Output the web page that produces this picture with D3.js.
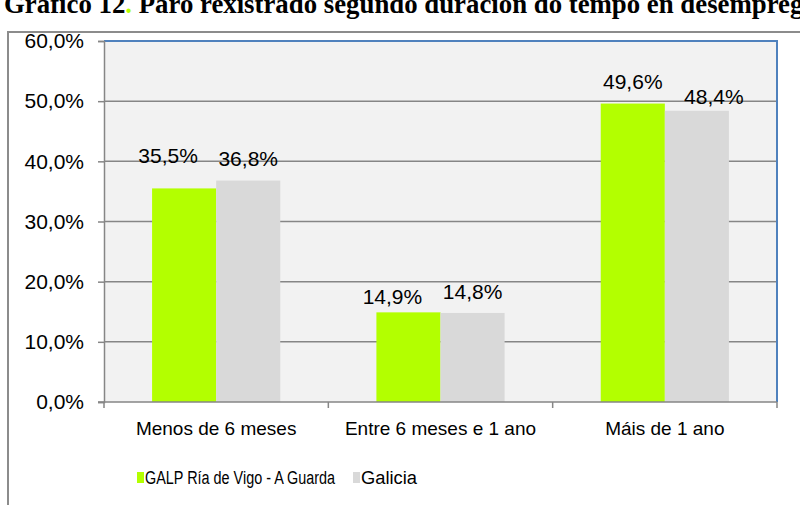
<!DOCTYPE html>
<html>
<head>
<meta charset="utf-8">
<script src="https://cdn.jsdelivr.net/npm/d3@7"></script>
<style>
  body { margin: 0; background: #fff; }
  svg { display: block; }
</style>
</head>
<body>
<svg id="chart" width="800" height="505"></svg>
<script>
(function (d3) {
  // data
  var categories = ['Menos de 6 meses', 'Entre 6 meses e 1 ano', 'Máis de 1 ano'];
  var seriesNames = ['GALP Ría de Vigo - A Guarda', 'Galicia'];
  var galpValues = [35.5, 14.9, 49.6];
  var galiciaValues = [36.8, 14.8, 48.4];
  var yTicks = [0, 10, 20, 30, 40, 50, 60];

  var colors = ['#b3ff00', '#d9d9d9'];
  // labels were hand placed in the original: lift above bar top, sideways shift (px)
  var labelLift = [[25, 15], [8, 14], [15, 7]];
  var labelShift = [[-16, 0], [-16, 0], [0, 17]];

  var svg = d3.select('#chart');
  var font = 'Liberation Sans, Arial, sans-serif';
  var fmt = function (v) { return d3.format('.1f')(v).replace('.', ',') + '%'; };

  var plot = { left: 104, right: 777, top: 41, bottom: 402 };

  /* ============ title & frame ============ */
  var title = svg.append('text')
    .attr('x', 4)
    .attr('y', 13)
    .attr('font-family', 'Liberation Serif, Times New Roman, serif')
    .attr('font-weight', 'bold')
    .attr('font-size', 26.8)
    .attr('fill', '#000');
  title.append('tspan').text('Gráfico 12');
  title.append('tspan').attr('fill', '#b3ff00').text('.');
  title.append('tspan').text(' Paro rexistrado segundo duración do tempo en desemprego');

  svg.append('path')
    .attr('d', 'M8,505V32H800')
    .attr('fill', 'none')
    .attr('stroke', '#8c8c8c')
    .attr('stroke-width', 2);

  /* ============ scales ============ */
  var x0 = d3.scaleBand()
    .domain(categories)
    .range([plot.left, plot.right])
    .padding(0);

  var x1 = d3.scaleBand()
    .domain(seriesNames)
    .range([0, x0.bandwidth()])
    .paddingInner(0)
    .paddingOuter(0.75);

  var y = d3.scaleLinear()
    .domain([0, 60])
    .range([plot.bottom, plot.top]);

  /* ============ plot area ============ */
  svg.append('rect')
    .attr('x', plot.left)
    .attr('y', plot.top)
    .attr('width', plot.right - plot.left)
    .attr('height', plot.bottom - plot.top)
    .attr('fill', '#f2f2f2');

  svg.append('g')
    .selectAll('line')
    .data(yTicks.filter(function (t) { return t > 0 && t < 60; }))
    .join('line')
    .attr('x1', plot.left)
    .attr('x2', plot.right)
    .attr('y1', function (t) { return y(t); })
    .attr('y2', function (t) { return y(t); })
    .attr('stroke', '#868686')
    .attr('stroke-width', 1.5);

  // plot border: blue on top/right
  svg.append('path')
    .attr('d', 'M' + plot.left + ',' + plot.top + 'H' + plot.right + 'V' + plot.bottom)
    .attr('fill', 'none')
    .attr('stroke', '#4f81bd')
    .attr('stroke-width', 2);

  /* ============ bars ============ */
  var rows = categories.map(function (c, i) {
    return { cat: c, i: i, values: [galpValues[i], galiciaValues[i]] };
  });

  var groups = svg.append('g')
    .selectAll('g')
    .data(rows)
    .join('g')
    .attr('transform', function (d) { return 'translate(' + x0(d.cat) + ',0)'; });

  groups.selectAll('rect')
    .data(function (d) {
      return d.values.map(function (v, j) { return { name: seriesNames[j], v: v, j: j }; });
    })
    .join('rect')
    .attr('x', function (d) { return x1(d.name); })
    .attr('y', function (d) { return y(d.v); })
    .attr('width', x1.bandwidth())
    .attr('height', function (d) { return y(0) - y(d.v); })
    .attr('fill', function (d) { return colors[d.j]; });

  groups.selectAll('text')
    .data(function (d) {
      return d.values.map(function (v, j) { return { name: seriesNames[j], v: v, j: j, i: d.i }; });
    })
    .join('text')
    .attr('x', function (d) { return x1(d.name) + x1.bandwidth() / 2 + labelShift[d.i][d.j]; })
    .attr('y', function (d) { return y(d.v) - labelLift[d.i][d.j]; })
    .attr('text-anchor', 'middle')
    .attr('font-family', font)
    .attr('font-size', 21)
    .attr('fill', '#000')
    .text(function (d) { return fmt(d.v); });

  /* ============ axes ============ */
  var yAxis = svg.append('g')
    .attr('transform', 'translate(' + plot.left + ',0)')
    .call(d3.axisLeft(y).tickValues(yTicks).tickSize(6).tickPadding(14).tickFormat(fmt));
  yAxis.select('.domain').attr('stroke', '#868686').attr('stroke-width', 1.5);
  yAxis.selectAll('.tick line').attr('stroke', '#868686').attr('stroke-width', 1.5);
  yAxis.selectAll('.tick text')
    .attr('font-family', font)
    .attr('font-size', 21)
    .attr('fill', '#000');

  var xAxis = svg.append('g')
    .attr('transform', 'translate(0,' + plot.bottom + ')');
  xAxis.append('line')
    .attr('x1', plot.left - 6)
    .attr('x2', plot.right)
    .attr('stroke', '#868686')
    .attr('stroke-width', 1.5);
  var bounds = categories.map(function (c) { return x0(c); }).concat([plot.right]);
  xAxis.selectAll('.xtick')
    .data(bounds)
    .join('line')
    .attr('class', 'xtick')
    .attr('x1', function (d) { return d; })
    .attr('x2', function (d) { return d; })
    .attr('y1', 0)
    .attr('y2', 6)
    .attr('stroke', '#868686')
    .attr('stroke-width', 1.5);
  xAxis.selectAll('.xlabel')
    .data(categories)
    .join('text')
    .attr('class', 'xlabel')
    .attr('x', function (c) { return x0(c) + x0.bandwidth() / 2; })
    .attr('y', 33)
    .attr('text-anchor', 'middle')
    .attr('font-family', font)
    .attr('font-size', 19)
    .attr('fill', '#000')
    .text(function (c) { return c; });

  /* ============ legend ============ */
  var legendX = [137, 353];
  var legendTextWidth = [190, 56];
  var legend = svg.append('g')
    .selectAll('g')
    .data(seriesNames)
    .join('g')
    .attr('transform', function (d, i) { return 'translate(' + legendX[i] + ',472)'; });
  legend.append('rect')
    .attr('width', 7)
    .attr('height', 11)
    .attr('fill', function (d, i) { return colors[i]; });
  legend.append('text')
    .attr('x', 8)
    .attr('y', 12)
    .attr('font-family', font)
    .attr('font-size', 18)
    .attr('textLength', function (d, i) { return legendTextWidth[i]; })
    .attr('lengthAdjust', 'spacingAndGlyphs')
    .attr('fill', '#000')
    .text(function (d) { return d; });
}(window.d3));
</script>
</body>
</html>
